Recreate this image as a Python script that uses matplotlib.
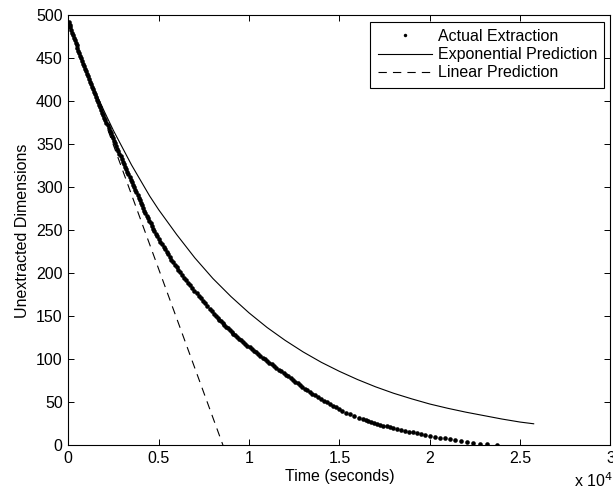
import numpy as np
import matplotlib
matplotlib.use('Agg')
import matplotlib.pyplot as plt

plt.rcParams['font.family'] = ['Liberation Sans', 'DejaVu Sans']
plt.rcParams['font.size'] = 11.5

# actual extraction: remaining dimensions vs time (s)
dims_actual = list(range(0, 30)) + list(range(30, 151, 2)) + list(range(153, 493, 3))
time_actual = [
    # 0 .. 29 (one dot per dimension)
    23720, 23170, 22760, 22410, 22080, 21730, 21400, 21110, 20830, 20550,
    20300, 20020, 19760, 19520, 19290, 19060, 18830, 18610, 18400, 18190,
    17990, 17800, 17610, 17430, 17250, 17080, 16920, 16760, 16610, 16460,
    # 30 .. 150 step 2
    16320, 16060, 15815, 15585, 15370, 15170, 14980, 14800, 14625, 14455,
    14290, 14125, 13965, 13810, 13660, 13510, 13370, 13230, 13090, 12950,
    12820, 12690, 12560, 12430, 12300, 12170, 12040, 11910, 11780, 11650,
    11520, 11390, 11260, 11130, 11000, 10870, 10750, 10630, 10510, 10390,
    10270, 10150, 10030, 9910, 9800, 9690, 9580, 9470, 9360, 9250,
    9140, 9040, 8940, 8840, 8740, 8640, 8540, 8450, 8360, 8270,
    8180,
    # 153 .. 492 step 3
    8060, 7940, 7820, 7700, 7580, 7460, 7340, 7220, 7100, 6980,
    6860, 6740, 6630, 6520, 6410, 6300, 6190, 6090, 5990, 5890,
    5800, 5710, 5620, 5530, 5440, 5360, 5270, 5180, 5100, 5010,
    4930, 4850, 4770, 4690, 4620, 4550, 4480, 4410, 4340, 4270,
    4210, 4150, 4080, 4020, 3960, 3890, 3830, 3770, 3700, 3640,
    3580, 3510, 3450, 3390, 3330, 3270, 3200, 3140, 3080, 3020,
    2950, 2890, 2830, 2770, 2710, 2640, 2580, 2520, 2460, 2400,
    2340, 2290, 2230, 2170, 2110, 2050, 1990, 1930, 1870, 1820,
    1760, 1700, 1640, 1580, 1530, 1470, 1420, 1360, 1310, 1250,
    1200, 1140, 1090, 1030, 980, 920, 870, 810, 760, 700,
    650, 600, 550, 500, 460, 410, 360, 310, 260, 210,
    160, 110, 70, 20,
]

# exponential prediction curve
time_exp = [0, 500, 1000, 1500, 2000, 2500, 3000, 3500, 4000, 4500,
            5000, 6000, 7000, 8000, 9000, 10000, 11000, 12000, 13000, 14000,
            15000, 16000, 17000, 18000, 19000, 20000, 21000, 22000, 23000, 24000,
            25000, 25750]
dims_exp = [493, 463, 436, 411, 388, 366, 346, 326, 308, 290,
            274, 245, 218, 194, 173, 154, 137, 122, 108.5, 96.5,
            86, 76.5, 68, 60.5, 54, 48, 43, 38.5, 34.5, 30.5,
            27, 25]

# linear prediction end points
time_lin = [0, 8560]
dims_lin = [493, 0]

fig = plt.figure(figsize=(6.13, 4.93), dpi=100)
ax = fig.add_axes([0.1114, 0.0968, 0.8845, 0.872])

ax.plot(time_actual, dims_actual, linestyle='none', marker='o', markersize=3.3,
        color='black', markeredgewidth=0, label='Actual Extraction')
ax.plot(time_exp, dims_exp, color='black', linewidth=0.8, label='Exponential Prediction')
ax.plot(time_lin, dims_lin, color='black', linewidth=0.8, linestyle=(0, (7.5, 5.5)),
        label='Linear Prediction')

ax.set_xlim(0, 30000)
ax.set_ylim(0, 500)
xt = [0, 5000, 10000, 15000, 20000, 25000, 30000]
ax.set_xticks(xt)
ax.set_xticklabels(['0', '0.5', '1', '1.5', '2', '2.5', '3'])
ax.set_yticks(range(0, 501, 50))
ax.tick_params(direction='in', top=True, right=True, length=4, width=0.7, pad=4)
for s in ax.spines.values():
    s.set_linewidth(0.8)

ax.set_xlabel('Time (seconds)', labelpad=2)
ax.set_ylabel('Unextracted Dimensions', labelpad=4)
fig.text(0.936, 0.012, r'x 10$^{4}$', fontsize=11.5)

leg = ax.legend(loc='upper right', fancybox=False, edgecolor='black', framealpha=1,
                handlelength=3.4, handletextpad=0.35, labelspacing=0.2,
                borderpad=0.45, borderaxespad=0.4, markerscale=0.75)
leg.get_frame().set_linewidth(0.8)

fig.savefig('out.png', dpi=100)
